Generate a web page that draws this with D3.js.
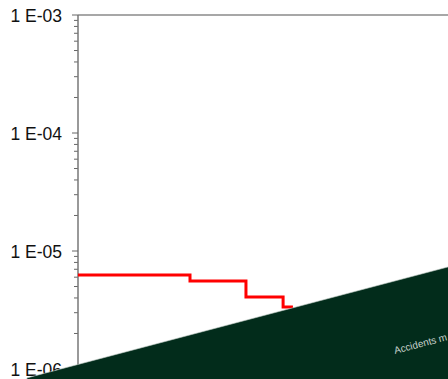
<!DOCTYPE html>
<html>
<head>
<meta charset="utf-8">
<script src="https://cdn.jsdelivr.net/npm/d3@7"></script>
<style>
  body { margin: 0; background: #fff; }
  svg { display: block; font-family: 'Liberation Sans', Arial, sans-serif; }
</style>
</head>
<body>
<div id="container"></div>
<script>
const WIDTH = 448;
const HEIGHT = 379;

// y axis decades
const yTicks = [1e-3, 1e-4, 1e-5, 1e-6];
const yTickLabels = ['1 E-03', '1 E-04', '1 E-05', '1 E-06'];

// step curve: number of fatalities (N) and frequency (F)
const stepN = [1, 10, 31.6, 67.8, 83];
const stepF = [6.26e-6, 5.57e-6, 4.07e-6, 3.35e-6, 3.35e-6];

// dark band boundary, in data units
const bandN = [0.35, 2100];
const bandF = [8.4e-7, 7.4e-6];
const bandLabel = 'Accidents m';

const margin = { left: 78, top: 15 };

const x = d3.scaleLog().domain([1, 10 ** (370 / 112)]).range([margin.left, WIDTH]);
const y = d3.scaleLog().domain([1e-3, 1e-6]).range([margin.top, margin.top + 354]);

const svg = d3
  .select('#container')
  .append('svg')
  .attr('width', WIDTH)
  .attr('height', HEIGHT);

// top frame line
svg
  .append('line')
  .attr('x1', x.range()[0])
  .attr('x2', x.range()[1])
  .attr('y1', y(1e-3))
  .attr('y2', y(1e-3))
  .attr('stroke', '#8a8a8a')
  .attr('stroke-width', 1.5);

// minor ticks
const minor = [];
[1e-4, 1e-5, 1e-6].forEach((base) => {
  for (let k = 2; k <= 9; k++) minor.push(base * k);
});

svg
  .append('g')
  .selectAll('line')
  .data(minor)
  .enter()
  .append('line')
  .attr('x1', margin.left - 4)
  .attr('x2', margin.left)
  .attr('y1', (d) => y(d))
  .attr('y2', (d) => y(d))
  .attr('stroke', '#666')
  .attr('stroke-width', 1);

const yAxis = svg.append('g');

yAxis
  .append('line')
  .attr('x1', margin.left)
  .attr('x2', margin.left)
  .attr('y1', y(1e-3))
  .attr('y2', y(1e-6))
  .attr('stroke', '#777')
  .attr('stroke-width', 1.5);

yAxis
  .selectAll('line.major')
  .data(yTicks)
  .enter()
  .append('line')
  .attr('class', 'major')
  .attr('x1', margin.left - 6)
  .attr('x2', margin.left)
  .attr('y1', (d) => y(d))
  .attr('y2', (d) => y(d))
  .attr('stroke', '#666')
  .attr('stroke-width', 1);

yAxis
  .selectAll('text')
  .data(yTicks)
  .enter()
  .append('text')
  .attr('x', 62)
  .attr('y', (d) => y(d) + 1)
  .attr('dy', '0.35em')
  .attr('text-anchor', 'end')
  .attr('font-size', 17.5)
  .attr('fill', '#111')
  .text((d, i) => yTickLabels[i]);

// step curve
const stepData = stepN.map((n, i) => [n, stepF[i]]);
const line = d3
  .line()
  .x((d) => x(d[0]))
  .y((d) => y(d[1]))
  .curve(d3.curveStepAfter);

svg
  .append('path')
  .datum(stepData)
  .attr('d', line)
  .attr('fill', 'none')
  .attr('stroke', '#ff0000')
  .attr('stroke-width', 3);

// dark band over the lower right
const x0 = x(bandN[0]);
const y0 = y(bandF[0]);
const x1 = x(bandN[1]);
const y1 = y(bandF[1]);

svg
  .append('polygon')
  .attr('points', `${x0},${y0} ${x1},${y1} ${x1},${HEIGHT + 40} ${x0},${HEIGHT + 40}`)
  .attr('fill', '#022c1b')
  .attr('stroke', '#b9c4bd')
  .attr('stroke-width', 0.6);

const angle = (Math.atan2(y1 - y0, x1 - x0) * 180) / Math.PI;
svg
  .append('text')
  .attr('transform', `translate(395, 354) rotate(${angle})`)
  .attr('font-size', 10)
  .attr('fill', '#c9d3cc')
  .text(bandLabel);
</script>
</body>
</html>
